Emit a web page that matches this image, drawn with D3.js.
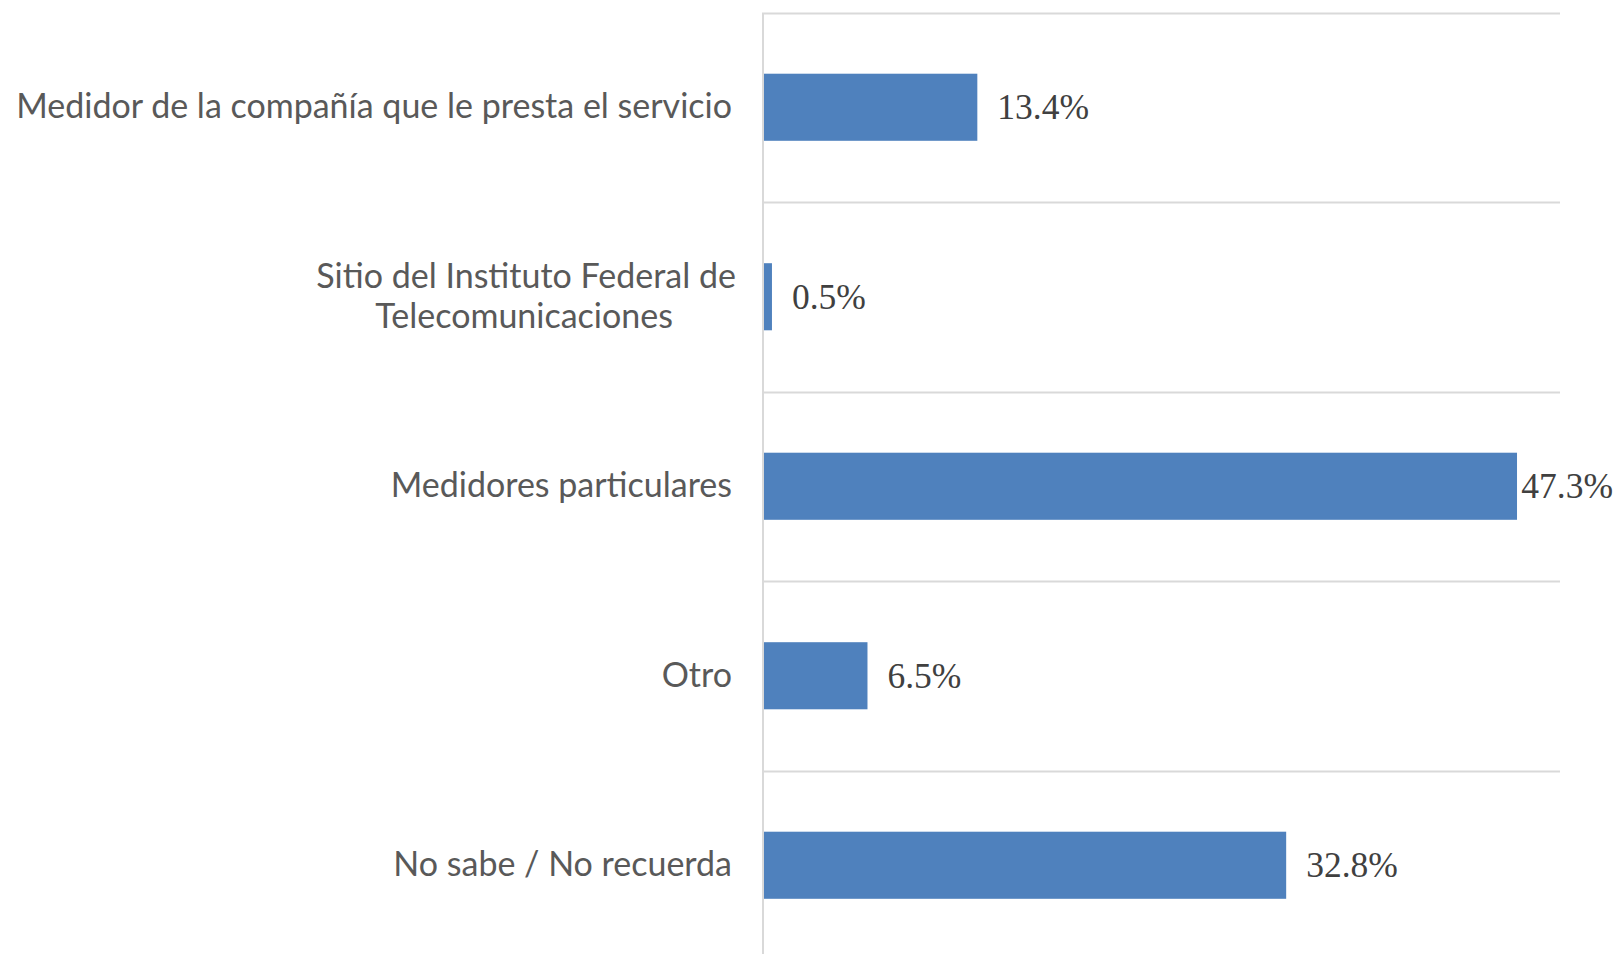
<!DOCTYPE html>
<html>
<head>
<meta charset="utf-8">
<script src="https://cdn.jsdelivr.net/npm/d3@7"></script>
<style>
  body { margin: 0; background: #fff; }
  svg { display: block; }
</style>
</head>
<body>
<div id="chart"></div>
<script>
// chart size
var width = 1617,
    height = 954;

var margin = {top: 12.5, right: 57, bottom: -6, left: 764};

// data
var categories = [
  ["Medidor de la compañía que le presta el servicio"],
  ["Sitio del Instituto Federal de", "Telecomunicaciones"],
  ["Medidores particulares"],
  ["Otro"],
  ["No sabe / No recuerda"]
];
var values = [13.4, 0.5, 47.3, 6.5, 32.8];
var xDomain = [0, 50];

var keys = categories.map(function(c) { return c.join(" "); });

var svg = d3.select("#chart").append("svg")
    .attr("width", width)
    .attr("height", height);

var x = d3.scaleLinear()
    .domain(xDomain)
    .range([margin.left, width - margin.right]);

var y = d3.scaleBand()
    .domain(keys)
    .range([margin.top, height - margin.bottom])
    .paddingInner(0.646)
    .paddingOuter(0.323);

// horizontal separators between categories
var step = y.step();
var bounds = d3.range(keys.length).map(function(i) { return margin.top + i * step; });
svg.append("g").selectAll("line")
  .data(bounds)
  .enter().append("line")
    .attr("x1", x(0))
    .attr("x2", x(xDomain[1]))
    .attr("y1", function(d) { return Math.round(d) + 0.5; })
    .attr("y2", function(d) { return Math.round(d) + 0.5; })
    .attr("stroke", "#d9d9d9")
    .attr("stroke-width", 2);

// vertical axis line
svg.append("line")
    .attr("x1", x(0) - 1).attr("x2", x(0) - 1)
    .attr("y1", margin.top).attr("y2", height)
    .attr("stroke", "#d9d9d9")
    .attr("stroke-width", 2);

// bars
svg.append("g").selectAll("rect")
  .data(values)
  .enter().append("rect")
    .attr("x", x(0))
    .attr("y", function(d, i) { return y(keys[i]); })
    .attr("width", function(d) { return x(d) - x(0); })
    .attr("height", y.bandwidth())
    .attr("fill", "#4f81bd");

// value labels
var vl = svg.append("g").selectAll("text")
  .data(values)
  .enter().append("text")
    .attr("y", function(d, i) { return y(keys[i]) + y.bandwidth() / 2 + 12; })
    .style("font-family", "'Liberation Serif', serif")
    .style("font-size", "35.5px")
    .attr("fill", "#404040")
    .text(function(d) { return d.toFixed(1) + "%"; });
vl.attr("x", function(d) {
  var w = this.getComputedTextLength();
  return Math.min(x(d) + 20, width - 4 - w);
});

// category labels
var labelRight = 732;
var cl = svg.append("g").selectAll("text")
  .data(categories)
  .enter().append("text")
    .attr("y", function(d, i) { return y(keys[i]) + y.bandwidth() / 2 + 11 - (d.length - 1) * 20; })
    .style("font-family", "Lato, sans-serif")
    .style("font-size", "34px")
    .attr("fill", "#595959");
cl.each(function(d) {
  var t = d3.select(this);
  d.forEach(function(line, j) {
    t.append("tspan").attr("dy", j ? 40 : 0).text(line);
  });
  // center multi-line blocks, right-aligned as a whole
  var spans = t.selectAll("tspan").nodes();
  var maxW = d3.max(spans, function(s) { return s.getComputedTextLength(); });
  spans.forEach(function(s) {
    var w = s.getComputedTextLength();
    d3.select(s).attr("x", labelRight - maxW + (maxW - w) / 2);
  });
});
</script>
</body>
</html>
